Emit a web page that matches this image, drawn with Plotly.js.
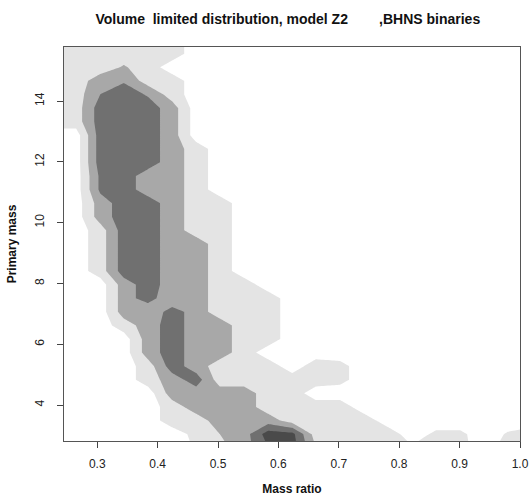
<!DOCTYPE html>
<html>
<head>
<meta charset="utf-8">
<script src="https://cdn.plot.ly/plotly-3.0.1.min.js"></script>
<style>
html,body{margin:0;padding:0;background:#fff;}
#chart{width:532px;height:498px;}
</style>
</head>
<body>
<div id="chart"></div>
<script>
// Grid of mass ratio (x) and primary mass (y) cell centres
var massRatio = [0.225,0.265,0.305,0.344,0.384,0.424,0.464,0.503,0.543,0.583,0.623,0.662,0.702,0.742,0.782,0.821,0.861,0.901,0.941,0.980,1.020];
var primaryMass = [2.597,3.044,3.491,3.938,4.385,4.832,5.279,5.726,6.173,6.620,7.067,7.514,7.961,8.408,8.855,9.302,9.749,10.196,10.643,11.090,11.537,11.984,12.431,12.878,13.325,13.772,14.219,14.666,15.113,15.560,16.007];

// Density level (0 = none ... 4 = highest), one row per primary-mass value (bottom to top)
var density = [
 [0, 0,0,0,0,0,0.6,1.2,2,3.5,4,1.5,1,1,1,0.6,1,0.8,0,1, 1],
 [0, 0,0,0,0,0,0.8,1.5,2,4,3.8,1,1,1,1,0,0.7,0.7,0,0.6, 1],
 [0, 0,0,0,0,1,1,2,2,2,1,1,1,1,0,0,0,0,0,0, 0],
 [0, 0,0,0,0,1,2,2,2,1,1,1,1,0,0,0,0,0,0,0, 0],
 [0, 0,0,0,0,2,2,2,2,1,1,0,0,0,0,0,0,0,0,0, 0],
 [0, 0,0,0,1,2,3,1,1,1,1,1,0.8,0,0,0,0,0,0,0, 0],
 [0, 0,0,0,1,3,2,1,1,1,0,1,0.8,0,0,0,0,0,0,0, 0],
 [0, 0,0,0,2,3,2,2,1,0,0,0,0,0,0,0,0,0,0,0, 0],
 [0, 0,0,0,2,3,2,2,1,1,0,0,0,0,0,0,0,0,0,0, 0],
 [0, 0,0,1,2,3,2,2,1,1,0,0,0,0,0,0,0,0,0,0, 0],
 [0, 0,0,2,1.6,3,2,1,1,1,0,0,0,0,0,0,0,0,0,0, 0],
 [0, 0,0,2,3,1.6,2,1,1,1,0,0,0,0,0,0,0,0,0,0, 0],
 [0, 0,0,2,3,2,2,1,1,0,0,0,0,0,0,0,0,0,0,0, 0],
 [0, 0,1,3,3,2,2,1,0,0,0,0,0,0,0,0,0,0,0,0, 0],
 [0, 0,1,3,3,2,2,1,0,0,0,0,0,0,0,0,0,0,0,0, 0],
 [0, 0,1,3,3,2,2,1,0,0,0,0,0,0,0,0,0,0,0,0, 0],
 [0, 0,1,3,3,2,1,1,0,0,0,0,0,0,0,0,0,0,0,0, 0],
 [0, 0,2,3,3,2,1,1,0,0,0,0,0,0,0,0,0,0,0,0, 0],
 [0, 0,2,3,3,2,1,1,0,0,0,0,0,0,0,0,0,0,0,0, 0],
 [0, 0,2.7,3,2,2,1,0,0,0,0,0,0,0,0,0,0,0,0,0, 0],
 [0, 0,2.7,3,2,2,1,0,0,0,0,0,0,0,0,0,0,0,0,0, 0],
 [0, 0,3,3,3,2,1,0,0,0,0,0,0,0,0,0,0,0,0,0, 0],
 [0, 0,3,3,3,2,1,0,0,0,0,0,0,0,0,0,0,0,0,0, 0],
 [0, 0,3,3,3,2,0,0,0,0,0,0,0,0,0,0,0,0,0,0, 0],
 [1, 1,3,3,3,2,0,0,0,0,0,0,0,0,0,0,0,0,0,0, 0],
 [1, 1,3,3,3,2,0,0,0,0,0,0,0,0,0,0,0,0,0,0, 0],
 [1, 1,2.5,3,2.4,1,0,0,0,0,0,0,0,0,0,0,0,0,0,0, 0],
 [1, 1,2,2.4,1,1,0,0,0,0,0,0,0,0,0,0,0,0,0,0, 0],
 [1, 1,1,1.6,1,0,0,0,0,0,0,0,0,0,0,0,0,0,0,0, 0],
 [1, 1,1,1,1,1,0,0,0,0,0,0,0,0,0,0,0,0,0,0, 0],
 [1, 1,1,1,1,1,0,0,0,0,0,0,0,0,0,0,0,0,0,0, 0]
];

var xTicks = [0.3,0.4,0.5,0.6,0.7,0.8,0.9,1.0];
var xTickLabels = ['0.3','0.4','0.5','0.6','0.7','0.8','0.9','1.0'];
var yTicks = [4,6,8,10,12,14];
var yTickLabels = ['4','6','8','10','12','14'];

var chartTitle = 'Volume\u00a0\u00a0limited distribution, model Z2\u00a0\u00a0\u00a0\u00a0\u00a0\u00a0\u00a0\u00a0,BHNS binaries';

var trace = {
  type: 'contour',
  x: massRatio,
  y: primaryMass,
  z: density,
  zmin: 0, zmax: 4,
  autocontour: false,
  contours: {start: 0.5, end: 3.5, size: 1, coloring: 'fill', showlines: false},
  line: {width: 0, smoothing: 0},
  colorscale: [
    [0, '#ffffff'], [0.125, '#ffffff'],
    [0.125, '#e4e4e4'], [0.375, '#e4e4e4'],
    [0.375, '#a8a8a8'], [0.625, '#a8a8a8'],
    [0.625, '#707070'], [0.875, '#707070'],
    [0.875, '#4a4a4a'], [1, '#4a4a4a']
  ],
  showscale: false,
  hoverinfo: 'skip'
};

var font = {family: '"Liberation Sans", Arial, Helvetica, sans-serif', color: '#111'};

var layout = {
  width: 532, height: 498,
  margin: {l: 64, r: 12, t: 47, b: 57},
  paper_bgcolor: '#ffffff', plot_bgcolor: '#ffffff',
  font: font,
  showlegend: false,
  title: {
    text: '<b>' + chartTitle + '</b>',
    font: {family: font.family, size: 14, color: '#111'},
    x: 0.541, xanchor: 'center', xref: 'container',
    y: 0.962, yanchor: 'middle', yref: 'container'
  },
  xaxis: {
    range: [0.245, 1.0],
    tickvals: xTicks, ticktext: xTickLabels,
    ticks: 'outside', ticklen: 6, tickcolor: '#444', tickwidth: 1,
    ticklabelstandoff: 6,
    tickfont: {family: font.family, size: 12, color: '#222'},
    showgrid: false, zeroline: false,
    showline: true, mirror: true, linecolor: '#555', linewidth: 1,
    title: {text: '<b>Mass ratio</b>', font: {family: font.family, size: 12, color: '#111'}, standoff: 14}
  },
  yaxis: {
    range: [2.816, 15.78],
    tickvals: yTicks, ticktext: yTickLabels,
    tickangle: -90,
    ticks: 'outside', ticklen: 6, tickcolor: '#444', tickwidth: 1,
    ticklabelstandoff: 8,
    tickfont: {family: font.family, size: 12, color: '#222'},
    showgrid: false, zeroline: false,
    showline: true, mirror: true, linecolor: '#555', linewidth: 1,
    title: {text: '<b>Primary mass</b>', font: {family: font.family, size: 12, color: '#111'}, standoff: 14}
  }
};

Plotly.newPlot('chart', [trace], layout, {displayModeBar: false, staticPlot: true});
</script>
</body>
</html>
